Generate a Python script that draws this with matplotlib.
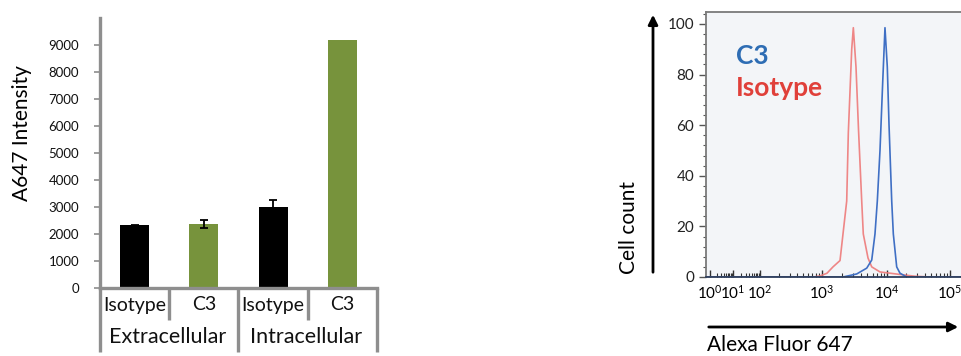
import numpy as np
import matplotlib
matplotlib.use('Agg')
import matplotlib.pyplot as plt
from matplotlib.ticker import FixedLocator, NullFormatter, AutoMinorLocator
from matplotlib.transforms import blended_transform_factory
from matplotlib.lines import Line2D

plt.rcParams['font.family'] = ['Lato', 'DejaVu Sans']
plt.rcParams['mathtext.fontset'] = 'custom'
plt.rcParams['mathtext.rm'] = 'Lato'
plt.rcParams['mathtext.it'] = 'Lato:italic'
plt.rcParams['mathtext.bf'] = 'Lato:bold'

# ─── DATA ─────────────────────────────────────────────────────────────────────
CATEGORIES    = ['Isotype', 'C3', 'Isotype', 'C3']
GROUPS        = ['Extracellular', 'Intracellular']
INTENSITY     = [2320, 2360, 3000, 9200]
INTENSITY_ERR = [25, 150, 270, 0]
Y_TICKS_LEFT  = [0, 1000, 2000, 3000, 4000, 5000, 6000, 7000, 8000, 9000]

# flow histogram (Alexa Fluor 647 intensity, cell count %)
ISO_X = [0.7, 716, 929, 1194, 1477, 1893, 2104, 2399, 2541, 2865, 3034,
         3334, 3648, 4083, 4318, 5103, 5823, 7803, 16070, 27800, 48150, 2.5e5]
ISO_Y = [0, 0, 0.4, 1.5, 4, 6.5, 17, 30, 57, 90, 98.5,
         83, 58, 30, 17, 7.5, 4, 2, 1, 0.3, 0, 0]
C3_X = [0.7, 2104, 3420, 4875, 5823, 6533, 7096, 7803, 8590, 9310,
        10110, 10770, 11880, 12600, 14250, 16070, 20560, 2.5e5]
C3_Y = [0, 0, 1.2, 3.5, 6.7, 17, 30, 50, 77, 98.5,
        83, 60, 30, 17, 4, 1.5, 0, 0]
Y_TICKS_RIGHT = [0, 20, 40, 60, 80, 100]
X_DECADES     = [1, 10, 100, 1e3, 1e4, 1e5]
# ──────────────────────────────────────────────────────────────────────────────

W, H = 962, 356
GREEN = '#77933C'
SPINE = '#8E8E8E'

# logicle-like display: compressed low decades
LOG_ANCH = [-1, 0, 1, 2, 3, 4, 5, 6]
POS_ANCH = [687, 710, 733, 760, 822, 887, 950, 1013]


def fwd(x):
    return np.interp(np.log10(np.clip(x, 1e-3, None)), LOG_ANCH, POS_ANCH)


def inv(p):
    return 10 ** np.interp(p, POS_ANCH, LOG_ANCH)


def fx(px):
    return px / W


def fy(py):
    return 1 - py / H


fig = plt.figure(figsize=(W / 100, H / 100), dpi=100)

# ─── left: bar chart ─────────────────────────────────────────────────────────
ax1 = fig.add_axes([fx(100), fy(288), (377 - 100) / W, (288 - 18) / H])
xpos = np.arange(len(CATEGORIES))
colors = ['black', GREEN, 'black', GREEN]
ax1.bar(xpos, INTENSITY, width=0.42, color=colors, zorder=2)
err = np.array(INTENSITY_ERR)
m = err > 0
ax1.errorbar(xpos[m], np.array(INTENSITY)[m], yerr=err[m], fmt='none',
             ecolor='black', elinewidth=1.3, capsize=3, capthick=1.3, zorder=3)
ax1.set_xlim(-0.5, 3.5)
ax1.set_ylim(0, 10000)
ax1.set_yticks(Y_TICKS_LEFT)
ax1.set_xticks([])
ax1.tick_params(axis='y', direction='out', length=4, width=1.2, color=SPINE,
                labelsize=9.5, pad=11, labelcolor='#111111')
for s in ['top', 'right']:
    ax1.spines[s].set_visible(False)
for s in ['left', 'bottom']:
    ax1.spines[s].set_color(SPINE)
    ax1.spines[s].set_linewidth(2.4)
ax1.set_ylabel('A647 Intensity', fontsize=15)
ax1.yaxis.set_label_coords(-0.245, 0.575)

# two-level category axis
tr = blended_transform_factory(ax1.transData, ax1.transAxes)
ax1.add_line(Line2D([-0.5, -0.5], [0, -(352 - 288) / 270], transform=tr,
                    color=SPINE, lw=2.4, clip_on=False, solid_capstyle='butt'))
for xb, yb in [(0.5, 320), (1.5, 352), (2.5, 320), (3.5, 352)]:
    ax1.add_line(Line2D([xb, xb], [0, -(yb - 288) / 270], transform=tr,
                        color=SPINE, lw=2.4, clip_on=False, solid_capstyle='butt'))
for i, lab in enumerate(CATEGORIES):
    ax1.text(i, -(305 - 288) / 270, lab, transform=tr, ha='center', va='center',
             fontsize=14, color='#111111')
for j, g in enumerate(GROUPS):
    ax1.text(2 * j + 0.48, -(337 - 288) / 270, g, transform=tr, ha='center',
             va='center', fontsize=15.5, color='#111111')

# ─── right: flow histogram ───────────────────────────────────────────────────
ax2 = fig.add_axes([fx(706), fy(277), (975 - 706) / W, (277 - 12) / H])
ax2.set_facecolor('#F3F5F8')
ax2.set_xscale('function', functions=(fwd, inv))
ax2.plot(ISO_X, ISO_Y, color='#EE7A7A', lw=1.2, alpha=0.9)
ax2.plot(C3_X, C3_Y, color='#3F6FC4', lw=1.2)
ax2.set_xlim(inv(706), inv(975))
ax2.set_ylim(0, 104.7)

ax2.xaxis.set_major_locator(FixedLocator(X_DECADES))
ax2.set_xticklabels([f'$10^{{{int(np.log10(v))}}}$' for v in X_DECADES])
minors = [k * d for d in X_DECADES for k in range(2, 10)]
ax2.xaxis.set_minor_locator(FixedLocator(minors))
ax2.xaxis.set_minor_formatter(NullFormatter())
ax2.tick_params(axis='x', which='major', direction='in', length=5, width=1,
                labelsize=11, pad=5, color='#333333')
ax2.tick_params(axis='x', which='minor', direction='in', length=3, width=0.8,
                color='#333333')

ax2.set_yticks(Y_TICKS_RIGHT)
ax2.yaxis.set_minor_locator(AutoMinorLocator(5))
ax2.tick_params(axis='y', which='major', direction='out', length=5, width=1,
                labelsize=11, color='#555555', labelcolor='#222222')
ax2.tick_params(axis='y', which='minor', direction='out', length=2.5, width=0.8,
                color='#555555')
for s in ax2.spines.values():
    s.set_color('#7A7A7A')
    s.set_linewidth(1.3)
ax2.spines['bottom'].set_color('#2E3E5C')

ax2.text((736 - 706) / (975 - 706), (277 - 56) / 265, 'C3',
         transform=ax2.transAxes, color='#2E6DB4', fontsize=19,
         fontweight='bold', ha='left', va='center')
ax2.text((736 - 706) / (975 - 706), (277 - 88) / 265, 'Isotype',
         transform=ax2.transAxes, color='#E0403A', fontsize=19,
         fontweight='bold', ha='left', va='center')

# axis arrows
fig.add_artist(plt.Annotation('', xy=(fx(653), fy(12)), xytext=(fx(653), fy(275)),
                              xycoords='figure fraction',
                              arrowprops=dict(arrowstyle='-|>', color='black',
                                              lw=2, mutation_scale=14)))
fig.add_artist(plt.Annotation('', xy=(fx(961), fy(327)), xytext=(fx(706), fy(327)),
                              xycoords='figure fraction',
                              arrowprops=dict(arrowstyle='-|>', color='black',
                                              lw=2, mutation_scale=14)))
fig.text(fx(629), fy(227), 'Cell count', rotation=90, ha='center', va='center',
         fontsize=15)
fig.text(fx(707), fy(345), 'Alexa Fluor 647', ha='left', va='center',
         fontsize=15)

fig.savefig('out.png', dpi=100)
